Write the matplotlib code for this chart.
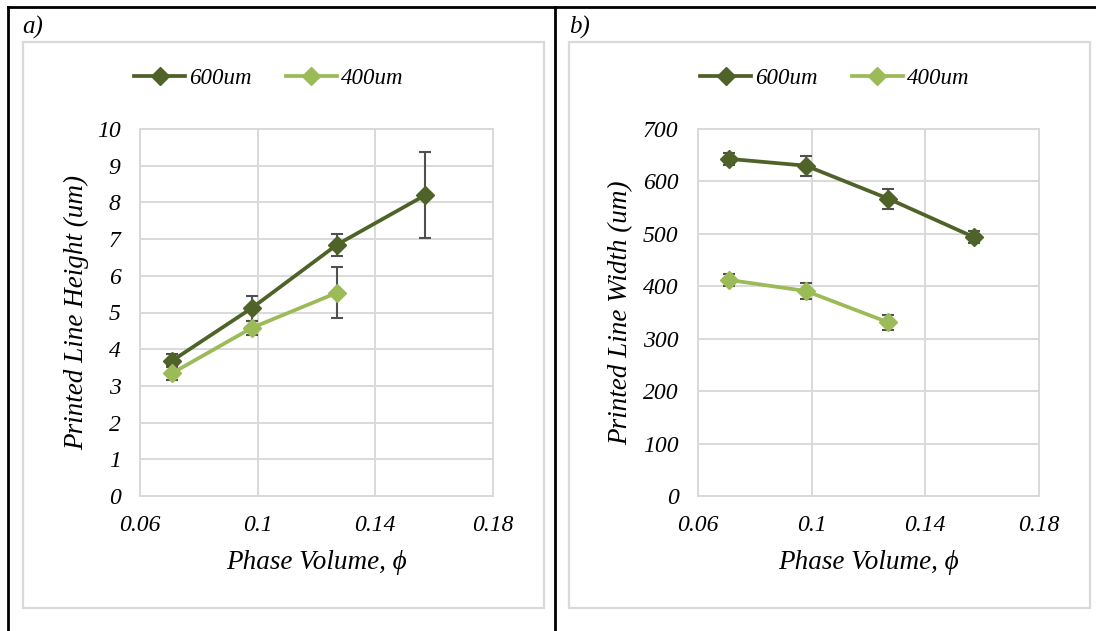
import matplotlib
matplotlib.use("Agg")
import matplotlib.pyplot as plt
from matplotlib.patches import Rectangle
from matplotlib.lines import Line2D

# Phase volume fractions
phi_600 = [0.071, 0.098, 0.127, 0.157]
phi_400 = [0.071, 0.098, 0.127]

# Printed line height (um) with standard deviation
height_600 = [3.69, 5.12, 6.85, 8.20]
height_600_err = [0.18, 0.34, 0.30, 1.17]
height_400 = [3.35, 4.58, 5.54]
height_400_err = [0.20, 0.19, 0.70]

# Printed line width (um) with standard deviation
width_600 = [643, 630, 567, 494]
width_600_err = [12, 19, 19, 11]
width_400 = [412, 391, 331]
width_400_err = [12, 15, 15]

series_labels = ["600um", "400um"]
x_ticks = [0.06, 0.1, 0.14, 0.18]
x_tick_labels = ["0.06", "0.1", "0.14", "0.18"]

DARK = "#4F6228"
LIGHT = "#9BBB59"
ERR = "#505050"
GRID = "#D9D9D9"
FONT = ["Liberation Serif", "DejaVu Serif"]

plt.rcParams["font.family"] = FONT
plt.rcParams["font.style"] = "italic"

W, H = 1096, 631
fig = plt.figure(figsize=(W / 100, H / 100), dpi=100)


def fx(px):
    return px / W


def fy(py):
    return 1 - py / H


# outer table rules
for (x0, y0, x1, y1) in [(8, 7, 1096, 7), (8, 7, 8, 631), (555, 7, 555, 631)]:
    fig.add_artist(Line2D([fx(x0), fx(x1)], [fy(y0), fy(y1)], color="black",
                          lw=2.0, solid_capstyle="projecting"))

# chart-area frames
for (x0, x1) in [(23, 544), (569, 1090)]:
    fig.add_artist(Rectangle((fx(x0), fy(608)), fx(x1) - fx(x0), fy(42) - fy(608),
                             transform=fig.transFigure, fill=False,
                             edgecolor=GRID, lw=1.6))

fig.text(fx(22), fy(27), "a)", fontsize=18, ha="left", va="center")
fig.text(fx(569), fy(27), "b)", fontsize=18, ha="left", va="center")


def panel(left, right, ys600, e600, ys400, e400, ylim, ystep, ylabel, ylabel_x,
          legend_cx):
    ax = fig.add_axes([fx(left), fy(496), fx(right) - fx(left), fy(129) - fy(496)])
    ax.set_xlim(0.06, 0.18)
    ax.set_ylim(0, ylim)
    ax.set_xticks(x_ticks)
    ax.set_xticklabels(x_tick_labels)
    ax.set_yticks(range(0, ylim + 1, ystep))
    ax.grid(True, color=GRID, lw=1.4)
    ax.set_axisbelow(True)
    for s in ax.spines.values():
        s.set_color(GRID)
        s.set_linewidth(1.4)
    ax.tick_params(length=0, labelsize=17)
    ax.tick_params(axis="y", pad=14)
    ax.tick_params(axis="x", pad=14)

    ax.errorbar(phi_600, ys600, yerr=e600, color=DARK, lw=2.7, marker="D",
                ms=9.5, ecolor=ERR, elinewidth=1.5, capsize=4.5, capthick=1.5,
                label=series_labels[0], zorder=3)
    ax.errorbar(phi_400, ys400, yerr=e400, color=LIGHT, lw=2.7, marker="D",
                ms=9.5, ecolor=ERR, elinewidth=1.5, capsize=4.5, capthick=1.5,
                label=series_labels[1], zorder=4)

    wpx = right - left
    hpx = 496 - 129
    ax.set_xlabel("Phase Volume, \u03d5", fontsize=19.5)
    ax.xaxis.set_label_coords(0.5, -(550 - 496) / hpx)
    ax.set_ylabel(ylabel, fontsize=19.5)
    ax.yaxis.set_label_coords((ylabel_x - left) / wpx, 0.5)

    lh1 = Line2D([], [], color=DARK, lw=2.7, marker="D", ms=9.5)
    lh2 = Line2D([], [], color=LIGHT, lw=2.7, marker="D", ms=9.5)
    fig.legend([lh1, lh2], series_labels, loc="center",
               bbox_to_anchor=(fx(legend_cx), fy(78)), ncol=2, frameon=False,
               fontsize=16.5, handlelength=2.2, handletextpad=0.2,
               columnspacing=1.5)
    return ax


panel(140, 493, height_600, height_600_err, height_400, height_400_err,
      10, 1, "Printed Line Height (um)", 89, 269)
panel(698, 1039, width_600, width_600_err, width_400, width_400_err,
      700, 100, "Printed Line Width (um)", 633, 835)

fig.savefig("out.png", dpi=100)
